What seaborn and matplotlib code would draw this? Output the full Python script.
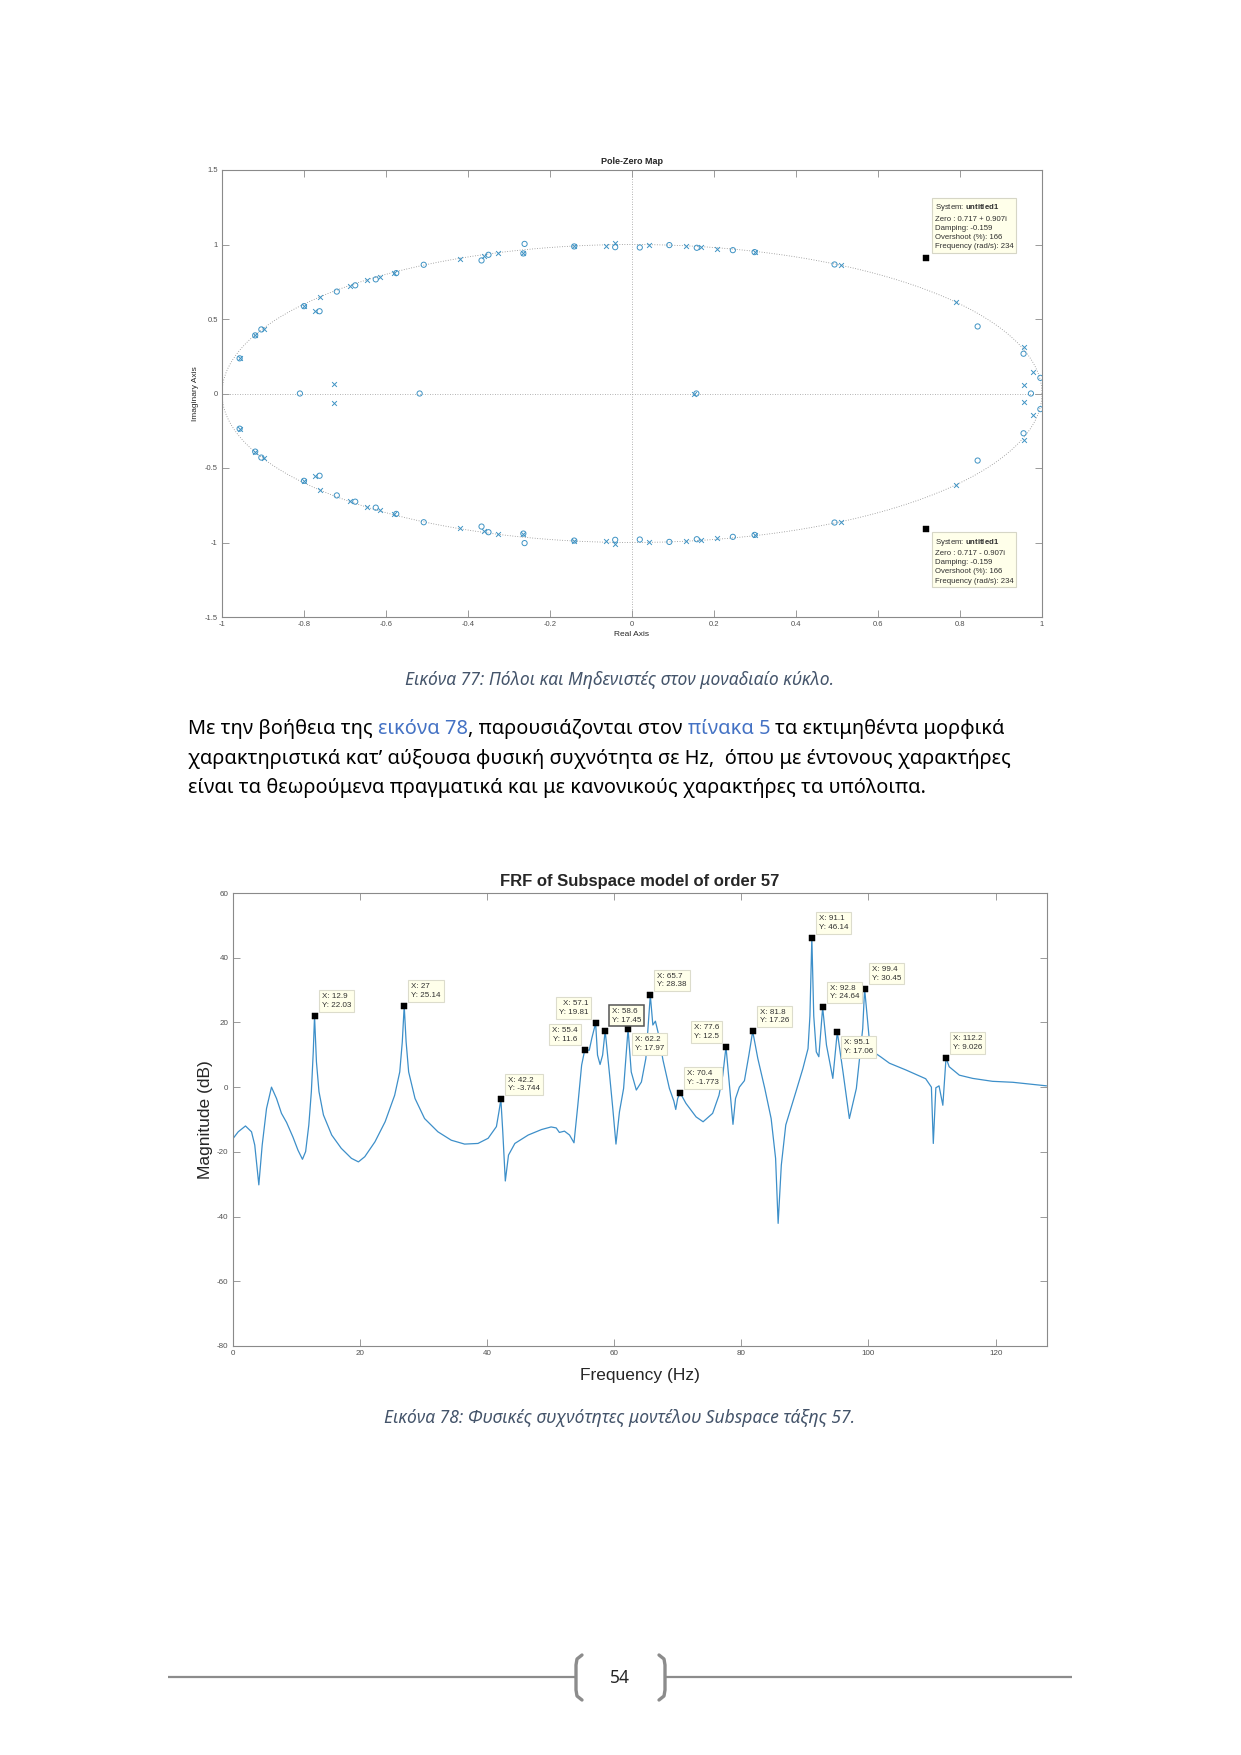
import numpy as np
import pandas as pd
import matplotlib
matplotlib.use("Agg")
import matplotlib.pyplot as plt
import seaborn as sns

W, H = 1241, 1755

# pole-zero map, upper half plane (the lower half is the complex conjugate)
zero_re = [-0.957, -0.919, -0.904, -0.800, -0.762, -0.720, -0.675, -0.625, -0.575,
           -0.508, -0.367, -0.350, -0.265, -0.262, -0.141, -0.041, 0.019, 0.091,
           0.158, 0.246, 0.299, 0.494, 0.843, 0.955, 0.996]
zero_im = [0.236, 0.390, 0.430, 0.586, 0.552, 0.684, 0.726, 0.766, 0.808,
           0.864, 0.893, 0.931, 0.940, 1.004, 0.987, 0.982, 0.980, 0.996,
           0.978, 0.962, 0.949, 0.866, 0.450, 0.267, 0.105]
zero_on_axis = [-0.810, -0.518, 0.157, 0.973]
pole_re = [-0.957, -0.919, -0.898, -0.800, -0.774, -0.762, -0.728, -0.689, -0.646,
           -0.615, -0.580, -0.420, -0.361, -0.327, -0.265, -0.141, -0.063, -0.042,
           0.041, 0.131, 0.168, 0.208, 0.299, 0.509, 0.790, 0.955, 0.955, 0.979]
pole_im = [0.236, 0.390, 0.430, 0.586, 0.557, 0.646, 0.065, 0.724, 0.762,
           0.784, 0.806, 0.902, 0.920, 0.940, 0.940, 0.987, 0.991, 1.007,
           0.995, 0.987, 0.984, 0.971, 0.949, 0.860, 0.615, 0.058, 0.312, 0.147]
pole_on_axis = [0.150]

pz_tip_re = [0.717, 0.717]
pz_tip_im = [0.907, -0.907]
pz_tip_text = ["System: $\\mathbf{untitled1}$\nZero : 0.717 + 0.907i\nDamping: -0.159\n"
               "Overshoot (%): 166\nFrequency (rad/s): 234",
               "System: $\\mathbf{untitled1}$\nZero : 0.717 - 0.907i\nDamping: -0.159\n"
               "Overshoot (%): 166\nFrequency (rad/s): 234"]

pz_xticks = [-1, -0.8, -0.6, -0.4, -0.2, 0, 0.2, 0.4, 0.6, 0.8, 1]
pz_xlabels = ["-1", "-0.8", "-0.6", "-0.4", "-0.2", "0", "0.2", "0.4", "0.6", "0.8", "1"]
pz_yticks = [-1.5, -1, -0.5, 0, 0.5, 1, 1.5]
pz_ylabels = ["-1.5", "-1", "-0.5", "0", "0.5", "1", "1.5"]

# FRF magnitude
freq = [0.0, 0.9, 2.04, 2.99, 3.5, 4.14, 4.67, 5.35, 6.13, 6.92,
        7.7, 8.5, 9.5, 10.3, 11.0, 11.5, 12.0, 12.4, 12.7, 12.9,
        13.2, 13.6, 14.3, 15.6, 17.1, 18.7, 19.8, 20.8, 22.4, 24.0,
        25.5, 26.3, 26.7, 27.0, 27.3, 27.7, 28.7, 30.2, 32.3, 34.4,
        36.5, 38.6, 40.2, 41.5, 41.9, 42.2, 42.5, 42.9, 43.4, 44.4,
        46.5, 48.6, 50.1, 50.9, 51.4, 52.2, 53.0, 53.7, 54.3, 54.9,
        55.4, 56.1, 56.5, 57.1, 57.4, 57.8, 58.2, 58.6, 59.3, 59.8,
        60.3, 60.85, 61.5, 62.2, 62.7, 63.5, 64.3, 65.0, 65.7, 66.1,
        66.5, 66.9, 67.7, 68.7, 69.4, 69.7, 70.0, 70.4, 71.3, 72.9,
        74.0, 75.5, 76.5, 77.1, 77.6, 78.1, 78.7, 79.1, 79.7, 80.5,
        81.2, 81.8, 82.6, 83.7, 84.7, 85.4, 85.8, 86.3, 87.0, 88.6,
        89.7, 90.5, 90.8, 91.1, 91.4, 91.8, 92.2, 92.8, 93.4, 94.4,
        95.1, 96.0, 97.0, 98.1, 99.1, 99.4, 100.1, 100.7, 101.9, 103.3,
        105.9, 109.0, 109.9, 110.2, 110.6, 111.1, 111.7, 112.2, 112.7, 114.3,
        116.4, 119.5, 122.7, 128.0]
mag_db = [-16.1, -13.8, -12.0, -13.8, -17.9, -30.2, -17.9, -6.6, 0.0, -3.5,
          -8.1, -10.9, -15.4, -19.5, -22.3, -19.9, -11.7, -1.4, 10.9, 22.03,
          7.8, -1.4, -8.6, -14.8, -18.9, -22.0, -23.1, -21.5, -16.9, -10.7,
          -2.5, 4.7, 14.0, 25.14, 14.0, 4.7, -3.5, -9.7, -13.8, -16.4,
          -17.6, -17.4, -15.8, -12.2, -7.6, -3.744, -13.8, -29.0, -21.0, -17.4,
          -14.8, -13.1, -12.3, -12.6, -14.0, -13.6, -14.8, -17.2, -5.6, 6.8,
          11.6, 11.4, 15.1, 19.81, 9.9, 7.0, 9.9, 17.45, 3.7, -6.6,
          -17.6, -7.6, -0.4, 17.97, 4.7, -0.9, 1.6, 8.9, 28.38, 19.2,
          20.4, 17.1, 8.3, -0.4, -4.3, -6.9, -3.5, -1.773, -5.0, -9.2,
          -10.7, -8.1, -2.5, 3.7, 12.5, 1.7, -11.5, -3.5, 0.0, 2.0,
          9.9, 17.26, 8.9, -0.4, -9.7, -22.0, -42.1, -24.1, -11.7, -1.4,
          5.8, 11.9, 22.0, 46.14, 22.0, 10.9, 9.4, 24.64, 13.0, 2.7,
          17.06, 4.7, -9.7, -0.4, 18.1, 30.45, 15.5, 11.0, 9.4, 7.4,
          5.3, 2.6, 0.0, -17.4, -0.2, 0.4, -5.6, 9.026, 6.3, 3.7,
          2.7, 1.8, 1.5, 0.4]

tip_f = [12.9, 27, 42.2, 55.4, 57.1, 58.6, 62.2, 65.7, 70.4, 77.6, 81.8, 91.1, 92.8,
         95.1, 99.4, 112.2]
tip_db = [22.03, 25.14, -3.744, 11.6, 19.81, 17.45, 17.97, 28.38, -1.773, 12.5, 17.26,
          46.14, 24.64, 17.06, 30.45, 9.026]
tip_side = ["ur", "ur", "ur", "ul", "ul", "ur", "dr", "ur", "ur", "ul", "ur", "ur", "ur",
            "dr", "ur", "ur"]

frf_xticks = [0, 20, 40, 60, 80, 100, 120]
frf_yticks = [-80, -60, -40, -20, 0, 20, 40, 60]

caption_77 = "Εικόνα 77: Πόλοι και Μηδενιστές στον μοναδιαίο κύκλο."
caption_78 = "Εικόνα 78: Φυσικές συχνότητες μοντέλου Subspace τάξης 57."
para = [
    [("Με την βοήθεια της ", "k"), ("εικόνα 78", "#4472C4"),
     (", παρουσιάζονται στον ", "k"), ("πίνακα 5", "#4472C4"),
     (" τα εκτιμηθέντα μορφικά", "k")],
    [("χαρακτηριστικά κατ’ αύξουσα φυσική συχνότητα σε Hz,  όπου με έντονους χαρακτήρες", "k")],
    [("είναι τα θεωρούμενα πραγματικά και με κανονικούς χαρακτήρες τα υπόλοιπα.", "k")],
]
page_no = "54"

sns.set_style("white")
plt.rcParams["font.family"] = ["Liberation Sans", "DejaVu Sans"]
plt.rcParams["mathtext.fontset"] = "custom"
plt.rcParams["mathtext.rm"] = "Liberation Sans"
plt.rcParams["mathtext.bf"] = "Liberation Sans:bold"
plt.rcParams["axes.unicode_minus"] = False

fig = plt.figure(figsize=(W / 100, H / 100), dpi=100)
page = fig.add_axes([0, 0, 1, 1], zorder=0)
page.set_xlim(0, W)
page.set_ylim(H, 0)
page.axis("off")


def box(l, t, r, b):
    return [l / W, 1 - b / H, (r - l) / W, (b - t) / H]


def matlab_axes(ax, lsize=5.5):
    for s in ax.spines.values():
        s.set_visible(True)
        s.set_color("#8a8a8a")
        s.set_linewidth(0.8)
    ax.tick_params(direction="in", length=5, width=0.6, color="#8a8a8a",
                   top=True, right=True, bottom=True, left=True,
                   labelsize=lsize, labelcolor="#505050", pad=3)


blue = "#3f93c4"

# ---------------- pole-zero map ----------------
ax1 = fig.add_axes(box(222, 170, 1042, 617), zorder=2)
zeros = pd.DataFrame({
    "re": zero_re + zero_re + zero_on_axis,
    "im": zero_im + [-v for v in zero_im] + [0.0] * len(zero_on_axis)})
poles = pd.DataFrame({
    "re": pole_re + pole_re + pole_on_axis,
    "im": pole_im + [-v for v in pole_im] + [0.0] * len(pole_on_axis)})

t = np.linspace(0, 2 * np.pi, 400)
ax1.plot(np.cos(t), np.sin(t), ls=(0, (1, 2)), color="#8c8c8c", lw=0.6)
ax1.axhline(0, ls=(0, (1, 2)), color="#9a9a9a", lw=0.6)
ax1.axvline(0, ls=(0, (1, 2)), color="#9a9a9a", lw=0.6)
sns.scatterplot(data=zeros, x="re", y="im", marker="o", s=14, facecolor="none",
                edgecolor=blue, linewidth=0.7, ax=ax1, legend=False, zorder=3)
sns.scatterplot(data=poles, x="re", y="im", marker="x", s=12, color=blue,
                edgecolor=blue, linewidth=0.7, ax=ax1, legend=False, zorder=3)
sns.scatterplot(x=pz_tip_re, y=pz_tip_im, marker="s", s=14, color="k",
                edgecolor="k", ax=ax1, legend=False, zorder=4)
for re, im, txt in zip(pz_tip_re, pz_tip_im, pz_tip_text):
    up = im > 0
    ax1.annotate(txt, xy=(re, im), xytext=(9, 8 if up else -8), textcoords="offset pixels",
                 ha="left", va="bottom" if up else "top", fontsize=5.6, color="#303030",
                 linespacing=1.45, annotation_clip=False, zorder=5,
                 bbox=dict(boxstyle="square,pad=0.35", fc="#ffffea", ec="#d6d6c6", lw=0.8))

ax1.set_xlim(-1, 1)
ax1.set_ylim(-1.5, 1.5)
ax1.set_xticks(pz_xticks, labels=pz_xlabels)
ax1.set_yticks(pz_yticks, labels=pz_ylabels)
matlab_axes(ax1)
ax1.set_title("Pole-Zero Map", fontsize=6.5, fontweight="bold", pad=4)
ax1.set_xlabel("Real Axis", fontsize=6, labelpad=2)
ax1.set_ylabel("Imaginary Axis", fontsize=6, labelpad=4)

# ---------------- FRF ----------------
ax2 = fig.add_axes(box(232.5, 893, 1046.5, 1346), zorder=2)
frf = pd.DataFrame({"f": freq, "db": mag_db})
sns.lineplot(data=frf, x="f", y="db", color="#3d8fc9", lw=0.9, ax=ax2)
sns.scatterplot(x=tip_f, y=tip_db, marker="s", s=18, color="k", edgecolor="k",
                ax=ax2, legend=False, zorder=4)
for f, d, side in zip(tip_f, tip_db, tip_side):
    dx = -7 if side == "ul" else 7
    dy = -7 if side == "dr" else 7
    sel = (f == 58.6)
    ax2.annotate(f"X: {f:g}\nY: {d:g}", xy=(f, d), xytext=(dx, dy),
                 textcoords="offset pixels", ha="right" if dx < 0 else "left",
                 va="top" if dy < 0 else "bottom", fontsize=5.8, color="#303030",
                 linespacing=1.35, annotation_clip=False, zorder=5,
                 bbox=dict(boxstyle="square,pad=0.35", fc="#ffffea",
                           ec="#555555" if sel else "#dcdccc", lw=1.1 if sel else 0.8))
ax2.set_xlim(0, 128)
ax2.set_ylim(-80, 60)
ax2.set_xticks(frf_xticks, labels=[str(v) for v in frf_xticks])
ax2.set_yticks(frf_yticks, labels=[str(v) for v in frf_yticks])
matlab_axes(ax2, 5.8)
ax2.set_title("FRF of Subspace model of order 57", fontsize=12, fontweight="bold", pad=5)
ax2.set_xlabel("Frequency (Hz)", fontsize=12.5, labelpad=8)
ax2.set_ylabel("Magnitude (dB)", fontsize=12.5, labelpad=3)

# ---------------- page text ----------------
greek = dict(family=["Noto Sans", "DejaVu Sans"])
renderer = fig.canvas.get_renderer()


def text_width(s, size, **kw):
    tt = page.text(0, 0, s, fontsize=size, **greek, **kw)
    w = tt.get_window_extent(renderer).width
    tt.remove()
    return w


full1 = "".join(s for s, c in para[0])
psize = 13 * 815 / text_width(full1, 13)


def draw_line(y, segs, size, x0=188):
    prefix = ""
    xw = text_width("x", size)
    for s, c in segs:
        lead = len(s) - len(s.lstrip())
        pre = prefix + s[:lead]
        x = x0 + (text_width(pre + "x", size) - xw if pre else 0)
        page.text(x, y, s.lstrip(), fontsize=size, color=c, va="baseline", **greek)
        prefix += s


for y, segs in zip([734, 764, 793], para):
    draw_line(y, segs, psize)

csize = 12 * 429 / text_width(caption_77, 12, style="italic")
page.text(620, 680, caption_77, fontsize=csize, style="italic", color="#44546A",
          ha="center", va="center", **greek)
page.text(620, 1418, caption_78, fontsize=csize, style="italic", color="#44546A",
          ha="center", va="center", **greek)

# footer with page number
grey = "#8c8c8c"
page.plot([168, 576], [1677, 1677], color=grey, lw=1.6, solid_capstyle="butt")
page.plot([665, 1072], [1677, 1677], color=grey, lw=1.6, solid_capstyle="butt")
page.plot([582, 577, 576, 576, 577, 582], [1655, 1659, 1665, 1690, 1696, 1700],
          color=grey, lw=2.4, solid_capstyle="round")
page.plot([659, 664, 665, 665, 664, 659], [1655, 1659, 1665, 1690, 1696, 1700],
          color=grey, lw=2.4, solid_capstyle="round")
page.text(620, 1678, page_no, fontsize=12.5, ha="center", va="center", **greek)

fig.savefig("out.png", dpi=100)
